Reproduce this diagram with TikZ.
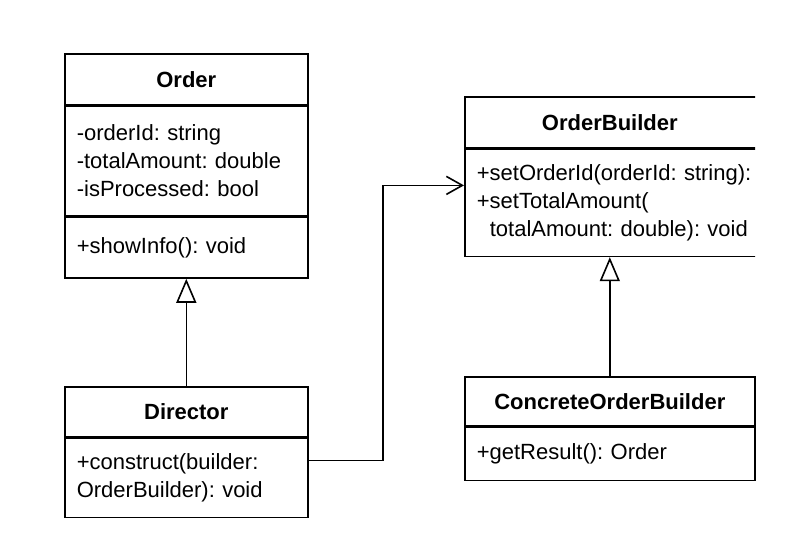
\documentclass[tikz,border=0pt]{standalone}
\usepackage{fontspec}
\setmainfont{Liberation Sans}
\usetikzlibrary{arrows.meta}

\tikzset{
	classhead/.style={draw,line width=1.6pt,anchor=north west,inner sep=0pt,font=\fontsize{22}{28}\selectfont\bfseries},
	classbody/.style={draw,line width=1.6pt,anchor=north west,inner xsep=12pt,inner ysep=0pt,align=left,font=\fontsize{22}{28}\selectfont\frenchspacing},
	inherit/.style={line width=1.6pt,-{Triangle[open,length=24pt,width=20pt,fill=white]}},
	assoc/.style={line width=1.6pt,-{Straight Barb[length=16pt,width=18pt]}}
}

\begin{document}
\begin{tikzpicture}[x=1pt,y=-1pt,line join=miter]
	\useasboundingbox (0,0) rectangle (800,551);

	% Order
	\node[classhead,minimum width=243pt,minimum height=51pt] (orderHead) at (64,53) {Order};
	\node[classbody,text width=219pt,minimum height=109pt] (orderAttr) at (orderHead.south west) {-orderId: string\\-totalAmount: double\\-isProcessed: bool};
	\node[classbody,text width=219pt,minimum height=61pt] (orderMeth) at (orderAttr.south west) {+showInfo(): void};

	% Director
	\node[classhead,minimum width=243pt,minimum height=50pt] (dirHead) at (64,386) {Director};
	\node[classbody,text width=219pt,minimum height=79pt] (dirMeth) at (dirHead.south west) {+construct(builder:\\OrderBuilder): void};

	% OrderBuilder (cut off on the right)
	\begin{scope}
		\clip (0,0) rectangle (755,551);
		\node[classhead,minimum width=310pt,minimum height=51pt] (obHead) at (464,96) {\hspace*{-20pt}OrderBuilder};
		\node[classbody,text width=286pt,minimum height=107pt] (obMeth) at (obHead.south west) {+setOrderId(orderId: string):\\+setTotalAmount(\\\hspace*{13pt}totalAmount: double): void};
	\end{scope}

	% ConcreteOrderBuilder
	\node[classhead,minimum width=290pt,minimum height=49pt] (cbHead) at (464,376) {ConcreteOrderBuilder};
	\node[classbody,text width=266pt,minimum height=53pt] (cbMeth) at (cbHead.south west) {+getResult(): Order};

	% connectors
	\coordinate (dirOut) at ([yshift=17.5pt]dirMeth.east);
	\coordinate (obIn) at ([yshift=17.5pt]obMeth.west);
	\coordinate (elbow) at (383,320);
	\draw[inherit] (dirHead.north) -- (orderMeth.south);
	\draw[inherit] (cbHead.north) -- (cbHead.north |- obMeth.south);
	\draw[assoc] (dirOut) -| (elbow) |- (obIn);
\end{tikzpicture}
\end{document}
